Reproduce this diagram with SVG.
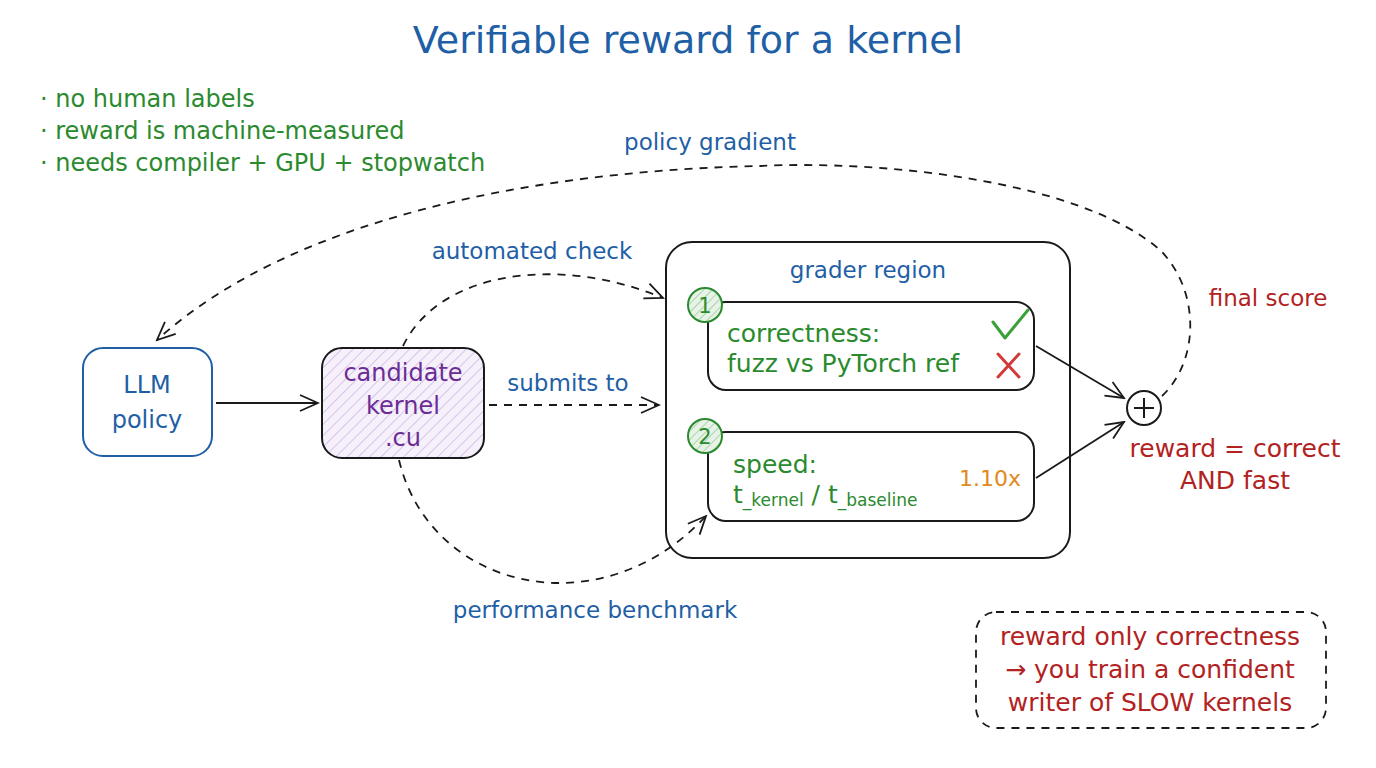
<svg xmlns="http://www.w3.org/2000/svg" width="1376" height="768" viewBox="0 0 1376 768">
<defs>
<style>
text{font-family:"DejaVu Sans","Liberation Sans",sans-serif;}
.blue{fill:#1f5fa6;}
.green{fill:#2a8a2e;}
.red{fill:#b32222;}
.purple{fill:#6a2d94;}
.orange{fill:#e08a1c;}
.edge{fill:none;stroke:#1a1a1a;stroke-width:1.8;}
.dash{stroke-dasharray:8 7;}
</style>
<marker id="ah" markerWidth="22" markerHeight="22" refX="20" refY="11" orient="auto" markerUnits="userSpaceOnUse">
<path d="M2,3 L20,11 L2,19" fill="none" stroke="#1a1a1a" stroke-width="1.8"/>
</marker>
<pattern id="hatchP" width="8" height="8" patternUnits="userSpaceOnUse" patternTransform="rotate(45)">
<rect width="8" height="8" fill="#f6f0fb"/>
<line x1="0" y1="0" x2="0" y2="8" stroke="#cdb6e6" stroke-width="1.5"/>
</pattern>
<pattern id="hatchG" width="6" height="6" patternUnits="userSpaceOnUse" patternTransform="rotate(45)">
<rect width="6" height="6" fill="#e6f3e6"/>
<line x1="0" y1="0" x2="0" y2="6" stroke="#8cc48c" stroke-width="1.3"/>
</pattern>
</defs>
<rect width="1376" height="768" fill="#ffffff"/>

<text x="688" y="53" text-anchor="middle" font-size="38" class="blue">Verifiable reward for a kernel</text>

<g id="notes" font-size="24" class="green">
<text x="40" y="107" class="green">· no human labels</text>
<text x="40" y="139" class="green">· reward is machine-measured</text>
<text x="40" y="171" class="green">· needs compiler + GPU + stopwatch</text>
</g>

<g id="connectors">
<path class="edge" d="M216,403 L318,403" marker-end="url(#ah)"/>
<path class="edge dash" d="M489,405 L659,405" marker-end="url(#ah)"/>
<path class="edge dash" d="M403,346 C440,270 560,255 663,298" marker-end="url(#ah)"/>
<path class="edge dash" d="M399,460 C430,590 600,630 706,516" marker-end="url(#ah)"/>
<path class="edge" d="M1036,346 L1124,398" marker-end="url(#ah)"/>
<path class="edge" d="M1036,478 L1124,422" marker-end="url(#ah)"/>
<path class="edge dash" d="M1162,396 C1200,360 1200,290 1160,250 C1080,180 880,160 760,166 C560,170 300,210 157,340" marker-end="url(#ah)"/>
<text x="568" y="391" text-anchor="middle" font-size="23" class="blue">submits to</text>
<text x="532" y="259" text-anchor="middle" font-size="23" class="blue">automated check</text>
<text x="595" y="618" text-anchor="middle" font-size="23" class="blue">performance benchmark</text>
<text x="710" y="150" text-anchor="middle" font-size="23" class="blue">policy gradient</text>
<text x="1268" y="306" text-anchor="middle" font-size="23" class="red">final score</text>
</g>

<g id="llm-policy">
<rect x="83" y="348" width="129" height="108" rx="20" fill="#ffffff" stroke="#1f5fa6" stroke-width="2"/>
<text x="147" y="393" text-anchor="middle" font-size="24" class="blue">LLM</text>
<text x="147" y="428" text-anchor="middle" font-size="24" class="blue">policy</text>
</g>

<g id="candidate-kernel">
<rect x="322" y="348" width="162" height="110" rx="20" fill="url(#hatchP)" stroke="#1a1a1a" stroke-width="2"/>
<text x="403" y="381" text-anchor="middle" font-size="24" class="purple">candidate</text>
<text x="403" y="414" text-anchor="middle" font-size="24" class="purple">kernel</text>
<text x="403" y="446" text-anchor="middle" font-size="24" class="purple">.cu</text>
</g>

<g id="grader-region">
<rect x="666" y="242" width="404" height="316" rx="26" fill="none" stroke="#1a1a1a" stroke-width="2"/>
<text x="868" y="278" text-anchor="middle" font-size="23" class="blue">grader region</text>
</g>

<g id="correctness">
<rect x="708" y="302" width="326" height="88" rx="18" fill="#ffffff" stroke="#1a1a1a" stroke-width="2"/>
<circle cx="705" cy="305" r="17" fill="url(#hatchG)" stroke="#2a8a2e" stroke-width="2"/>
<text x="705" y="313" text-anchor="middle" font-size="21" class="green">1</text>
<text x="727" y="342" font-size="25" class="green">correctness:</text>
<text x="727" y="372" font-size="25" class="green">fuzz vs PyTorch ref</text>
<path d="M993,322 L1005,338 L1028,310" fill="none" stroke="#3aa03a" stroke-width="3" stroke-linecap="round" stroke-linejoin="round"/>
<path d="M998,354 L1019,377 M1019,354 L998,377" fill="none" stroke="#d23a3a" stroke-width="3" stroke-linecap="round"/>
</g>

<g id="speed">
<rect x="708" y="432" width="326" height="89" rx="18" fill="#ffffff" stroke="#1a1a1a" stroke-width="2"/>
<circle cx="705" cy="436" r="17" fill="url(#hatchG)" stroke="#2a8a2e" stroke-width="2"/>
<text x="705" y="444" text-anchor="middle" font-size="21" class="green">2</text>
<text x="733" y="473" font-size="25" class="green">speed:</text>
<text x="733" y="503" font-size="25" class="green">t<tspan font-size="17" dy="3">_kernel</tspan><tspan dy="-3"> / t</tspan><tspan font-size="17" dy="3">_baseline</tspan></text>
<text x="990" y="486" text-anchor="middle" font-size="22" class="orange">1.10x</text>
</g>

<g id="sum">
<circle cx="1144" cy="408" r="17" fill="#ffffff" stroke="#1a1a1a" stroke-width="2"/>
<path d="M1134,408 L1154,408 M1144,398 L1144,418" stroke="#1a1a1a" stroke-width="2"/>
<text x="1235" y="457" text-anchor="middle" font-size="25" class="red">reward = correct</text>
<text x="1235" y="489" text-anchor="middle" font-size="25" class="red">AND fast</text>
</g>

<g id="warning">
<rect x="976" y="612" width="350" height="116" rx="20" fill="none" stroke="#1a1a1a" stroke-width="1.8" stroke-dasharray="8 7"/>
<text x="1150" y="645" text-anchor="middle" font-size="25" class="red">reward only correctness</text>
<text x="1150" y="678" text-anchor="middle" font-size="25" class="red">→ you train a confident</text>
<text x="1150" y="711" text-anchor="middle" font-size="25" class="red">writer of SLOW kernels</text>
</g>
</svg>
